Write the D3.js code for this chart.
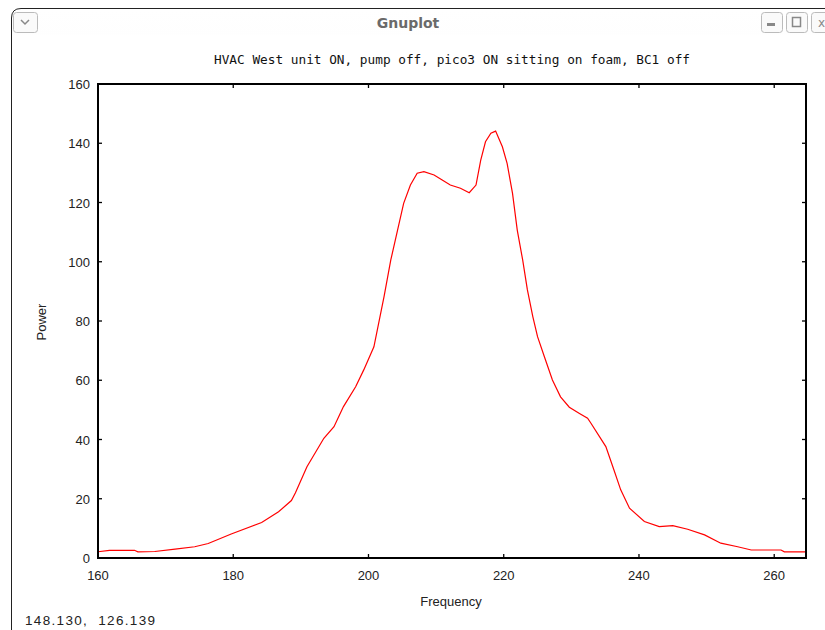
<!DOCTYPE html>
<html>
<head>
<meta charset="utf-8">
<script src="https://cdn.jsdelivr.net/npm/d3@7"></script>
<style>
  body { margin: 0; background: #fff; }
  svg { display: block; }
</style>
</head>
<body>
<div id="chart"></div>
<script>
// spectrum
const freq = [160.0, 161.7, 165.4, 165.9, 168.4, 171.4, 174.3, 176.3, 179.7, 184.2,
  186.7, 188.6, 189.2, 190.9, 193.4, 194.9, 196.3, 198.1, 199.3, 200.8,
  202.3, 203.3, 204.3, 205.2, 206.2, 207.2, 208.2, 209.7, 210.9, 212.1,
  213.6, 214.9, 215.9, 216.6, 217.3, 218.1, 218.8, 219.8, 220.5, 221.3,
  222.0, 222.8, 223.5, 224.3, 225.0, 226.0, 227.2, 228.4, 229.7, 231.2,
  232.4, 232.9, 235.1, 236.3, 237.3, 238.6, 240.8, 243.0, 245.0, 247.2,
  249.7, 252.1, 254.6, 256.6, 261.0, 261.5, 264.7];
const power = [2.1, 2.6, 2.6, 2.1, 2.2, 3.0, 3.8, 4.9, 8.1, 12.0,
  15.6, 19.4, 22.0, 30.8, 40.4, 44.3, 51.1, 57.8, 63.5, 71.3,
  88.2, 100.6, 110.7, 119.7, 125.9, 129.9, 130.4, 129.3, 127.6, 125.9,
  124.8, 123.3, 125.9, 134.3, 140.5, 143.4, 144.1, 138.8, 133.2, 123.1,
  110.7, 100.6, 90.5, 81.5, 74.7, 68.0, 60.1, 54.4, 50.9, 48.8,
  47.2, 45.5, 37.6, 29.7, 23.0, 16.8, 12.3, 10.6, 10.9, 9.7,
  7.8, 5.0, 3.8, 2.7, 2.7, 2.1, 2.1];
const xTicks = [160, 180, 200, 220, 240, 260];
const yTicks = [0, 20, 40, 60, 80, 100, 120, 140, 160];

const plotTitle = "HVAC West unit ON, pump off, pico3 ON sitting on foam, BC1 off";
const statusText = "148.130,  126.139";

const width = 825, height = 630;
const margin = {left: 98, top: 84, right: 825 - 806, bottom: 630 - 558};

const svg = d3.select("#chart").append("svg")
  .attr("width", width)
  .attr("height", height);

/* ---------------- window chrome ---------------- */
const grad = svg.append("defs").append("linearGradient")
  .attr("id", "bar").attr("x1", 0).attr("y1", 0).attr("x2", 0).attr("y2", 1);
grad.append("stop").attr("offset", "0%").attr("stop-color", "#ffffff");
grad.append("stop").attr("offset", "100%").attr("stop-color", "#ececec");

svg.append("path")
  .attr("d", "M11.5,630 L11.5,18 Q11.5,8.5 21,8.5 L830,8.5 L830,35 L11.5,35 Z")
  .attr("fill", "url(#bar)")
  .attr("stroke", "none");
svg.append("path")
  .attr("d", "M11.5,630 L11.5,18 Q11.5,8.5 21,8.5 L830,8.5")
  .attr("fill", "none")
  .attr("stroke", "#222")
  .attr("stroke-width", 1);

svg.append("text")
  .attr("x", 408).attr("y", 28)
  .attr("text-anchor", "middle")
  .attr("font-family", "DejaVu Sans, sans-serif")
  .attr("font-weight", "bold")
  .attr("font-size", 14)
  .attr("fill", "#6a6a6a")
  .text("Gnuplot");

// window buttons
const btns = [{x: 13, w: 24}, {x: 761, w: 21}, {x: 786, w: 21}, {x: 811, w: 21}];
svg.selectAll(".btn")
  .data(btns)
  .join("rect")
    .attr("class", "btn")
    .attr("x", d => d.x + 0.5).attr("y", 12.5)
    .attr("width", d => d.w).attr("height", 20)
    .attr("rx", 3)
    .attr("fill", "#fafafa")
    .attr("stroke", "#bbb");
svg.append("path").attr("d", "M21,20 L25,24 L29,20").attr("fill", "none").attr("stroke", "#888").attr("stroke-width", 1.5);
svg.append("rect").attr("x", 767).attr("y", 23).attr("width", 8).attr("height", 3).attr("fill", "#888");
svg.append("rect").attr("x", 792.5).attr("y", 17.5).attr("width", 8).attr("height", 9).attr("fill", "none").attr("stroke", "#888").attr("stroke-width", 1.5);
svg.append("text").attr("x", 818).attr("y", 27).attr("font-family", "DejaVu Sans, sans-serif")
  .attr("font-size", 12).attr("fill", "#888").text("x");

/* ---------------- plot ---------------- */
const x = d3.scaleLinear().domain([160, 264.7]).range([margin.left, width - margin.right]);
const y = d3.scaleLinear().domain([0, 160]).range([height - margin.bottom, margin.top]);

const tickFont = "Liberation Sans, Arial, sans-serif";

// inward ticks on all four sides
const g = svg.append("g");
g.selectAll(".xtb").data(xTicks).join("line")
  .attr("x1", d => x(d)).attr("x2", d => x(d))
  .attr("y1", y(0)).attr("y2", y(0) - 4)
  .attr("stroke", "#000").attr("stroke-width", 1.3);
g.selectAll(".xtt").data(xTicks).join("line")
  .attr("x1", d => x(d)).attr("x2", d => x(d))
  .attr("y1", y(160)).attr("y2", y(160) + 4)
  .attr("stroke", "#000").attr("stroke-width", 1.3);
g.selectAll(".ytl").data(yTicks).join("line")
  .attr("x1", x.range()[0]).attr("x2", x.range()[0] + 4)
  .attr("y1", d => y(d)).attr("y2", d => y(d))
  .attr("stroke", "#000").attr("stroke-width", 1.3);
g.selectAll(".ytr").data(yTicks).join("line")
  .attr("x1", x.range()[1]).attr("x2", x.range()[1] - 4)
  .attr("y1", d => y(d)).attr("y2", d => y(d))
  .attr("stroke", "#000").attr("stroke-width", 1.3);

// tick labels
g.selectAll(".xl").data(xTicks).join("text")
  .attr("x", d => x(d)).attr("y", y(0) + 22)
  .attr("text-anchor", "middle")
  .attr("font-family", tickFont).attr("font-size", 13).attr("fill", "#222")
  .text(d => d);
g.selectAll(".yl").data(yTicks).join("text")
  .attr("x", x.range()[0] - 8).attr("y", d => y(d) + 5)
  .attr("text-anchor", "end")
  .attr("font-family", tickFont).attr("font-size", 13).attr("fill", "#222")
  .text(d => d);

// the curve
const line = d3.line()
  .x((d, i) => x(freq[i]))
  .y(d => y(d));

svg.append("path")
  .datum(power)
  .attr("d", line)
  .attr("fill", "none")
  .attr("stroke", "#ff0000")
  .attr("stroke-width", 1.2);

// frame
svg.append("rect")
  .attr("x", x.range()[0]).attr("y", y(160))
  .attr("width", x.range()[1] - x.range()[0])
  .attr("height", y(0) - y(160))
  .attr("fill", "none")
  .attr("stroke", "#000")
  .attr("stroke-width", 2);

// titles
svg.append("text")
  .attr("x", 452).attr("y", 64)
  .attr("text-anchor", "middle")
  .attr("font-family", "DejaVu Sans Mono, monospace")
  .attr("font-size", 12)
  .attr("textLength", 476)
  .attr("lengthAdjust", "spacingAndGlyphs")
  .attr("fill", "#111")
  .text(plotTitle);

svg.append("text")
  .attr("x", 451).attr("y", 606)
  .attr("text-anchor", "middle")
  .attr("font-family", tickFont).attr("font-size", 13).attr("fill", "#222")
  .text("Frequency");

svg.append("text")
  .attr("transform", "translate(46,322) rotate(-90)")
  .attr("text-anchor", "middle")
  .attr("font-family", tickFont).attr("font-size", 13).attr("fill", "#222")
  .text("Power");

// status line (keep the double space)
svg.append("text")
  .attr("x", 25).attr("y", 625)
  .attr("font-family", tickFont).attr("font-size", 13.5).attr("fill", "#222")
  .style("white-space", "pre")
  .attr("textLength", 130)
  .attr("lengthAdjust", "spacing")
  .text(statusText);
</script>
</body>
</html>
